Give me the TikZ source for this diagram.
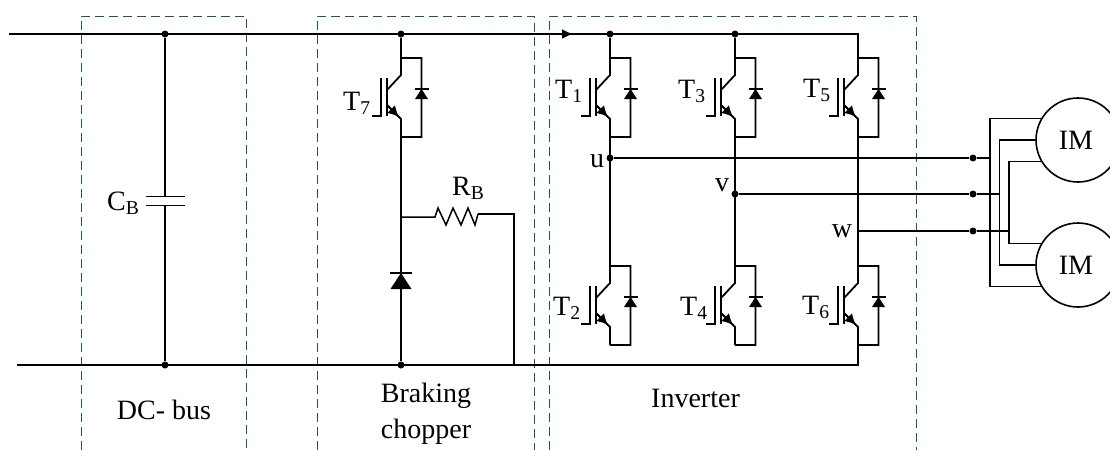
\documentclass[tikz,border=0pt]{standalone}
\usepackage{fontspec}
\setmainfont{Liberation Serif}
\usetikzlibrary{arrows.meta}
\definecolor{boxgreen}{RGB}{30,90,62}
\tikzset{
    wire/.style={line width=1.8pt,line join=miter},
    thinwire/.style={line width=1.5pt},
    groupbox/.style={line width=1pt,color=boxgreen,dash pattern=on 9pt off 5pt},
    dot/.style={circle,fill=black,inner sep=0pt,minimum size=7pt},
    lab/.style={inner sep=0pt,anchor=base,font=\fontsize{28}{37}\selectfont},
    motor/.style={circle,draw,fill=white,line width=1.6pt,inner sep=0pt,minimum size=84pt,font=\fontsize{28}{34}\selectfont}
}
\begin{document}
\begin{tikzpicture}[x=1pt,y=-1pt]
    \useasboundingbox (0,0) rectangle (1110,451);
    \clip (0,0) rectangle (1110,451);

    \draw[groupbox] (81,450) -- (81,16) -- (246,16) -- (246,450);
    \draw[groupbox] (317,450) -- (317,16) -- (534,16) -- (534,450);
    \draw[groupbox] (549,450) -- (549,16) -- (916,16) -- (916,450);

    \foreach \x/\y/\n/\ly/\lx in {401/58/7/52/-58,610/58/1/40/-55,735/58/3/40/-57,858/58/5/39/-55,610/266/2/49/-57,735/266/4/49/-55,858/266/6/48/-56}
    {
    \begin{scope}[shift={(\x,\y)}]
        \coordinate (c\n) at (0,0);
        \coordinate (e\n) at (0,79);
        \draw[wire] (e\n) -- (20.5,79) -- (20.5,0) -- (c\n) -- (0,17) -- (-14,32);
        \draw[wire] (-14,47) -- (0,61) -- (e\n);
        \draw[thinwire,-{Latex[length=11pt,width=11pt]}] (-14,47) -- (-2,59);
        \draw[thinwire] (-14,20) -- (-14,58);
        \draw[thinwire] (-20,20) -- (-20,58) -- (-29,58);
        \fill (20.5,31) -- (27,41) -- (14,41) -- cycle;
        \draw[thinwire] (13.5,31) -- (27.5,31);
        \node[lab,anchor=base west] (T\n) at (\lx,\ly) {T\textsubscript{\n}};
    \end{scope}
    }

    \coordinate (topL) at (9,34);
    \coordinate (botL) at (17,365);
    \coordinate (flow) at (573,34);
    \node[dot] (topC) at (165,34) {};
    \node[dot] (botC) at (165,365) {};
    \node[dot] (top7) at (401,34) {};
    \node[dot] (bot7) at (401,365) {};
    \node[dot] (top1) at (610,34) {};
    \node[dot] (top3) at (735,34) {};
    \node[dot] (u) at (610,158) {};
    \node[dot] (v) at (735,194) {};
    \coordinate (w) at (858,231);
    \coordinate (botRet) at (514,365);
    \coordinate (rbIn) at (401,217);
    \coordinate (rbOut) at (478,214);
    \coordinate (capA) at (165,196.5);
    \coordinate (capB) at (165,205.5);

    \draw[wire] (topL) -| (c5);
    \draw[wire,-{Latex[length=11pt,width=10pt]}] (topL) -- (flow);
    \draw[wire] (botL) -| (e6);
    \draw[wire] (topC) -- (capA);
    \draw[wire] (capB) -- (botC);
    \draw[wire] (146,196.5) -- (185,196.5);
    \draw[wire] (146,205.5) -- (185,205.5);

    \draw[wire] (top7) -- (c7);
    \draw[wire] (e7) -- (bot7);
    \fill (401,273) -- (411.5,289) -- (390.5,289) -- cycle;
    \draw[thinwire] (390,273) -- (412,273);
    \draw[thinwire] (rbIn) -- (435,217) -- (438,208) -- (446,225) -- (453,208) -- (461,225) -- (468,208) -- (475,225) -- (rbOut);
    \draw[wire] (rbOut) -| (botRet);

    \foreach \n in {1,3}
    \draw[wire] (top\n) -- (c\n);
    \foreach \a/\b in {1/2,3/4,5/6}
    \draw[wire] (e\a) -- (c\b);

    \node[motor] (imA) at (1078,140) {\hspace*{-4pt}IM};
    \node[motor] (imB) at (1078,265) {\hspace*{-4pt}IM};

    \node[dot] (du) at (973,158) {};
    \node[dot] (dv) at (973,194) {};
    \node[dot] (dw) at (973,231) {};
    \coordinate (pu) at (990,158);
    \coordinate (pv) at (999.5,194);
    \coordinate (pw) at (1009,231);

    \draw[thinwire] (u) -- (du) -- (pu);
    \draw[thinwire] (v) -- (dv) -- (pv);
    \draw[thinwire] (w) -- (dw) -- (pw);
    \draw[thinwire] (imA.150) -| (pu);
    \draw[thinwire] (imB.210) -| (pu);
    \draw[thinwire] (imA.180) -| (pv);
    \draw[thinwire] (imB.180) -| (pv);
    \draw[thinwire] (imA.210) -| (pw);
    \draw[thinwire] (imB.150) -| (pw);

    \node[lab] (lu) at (597,167) {u};
    \node[lab] (lv) at (722,191) {v};
    \node[lab] (lw) at (842,237) {w};
    \node[lab,anchor=base west] (lcb) at (107,210) {C\textsubscript{B}};
    \node[lab,anchor=base west] (lrb) at (452,195) {R\textsubscript{B}};
    \node[lab] (ldc) at (164,419) {DC- bus};
    \node[lab] (lbrk) at (426,402) {Braking};
    \node[lab] (lchp) at (426,438) {chopper};
    \node[lab,anchor=base west] (linv) at (651,407) {Inverter};
\end{tikzpicture}
\end{document}
